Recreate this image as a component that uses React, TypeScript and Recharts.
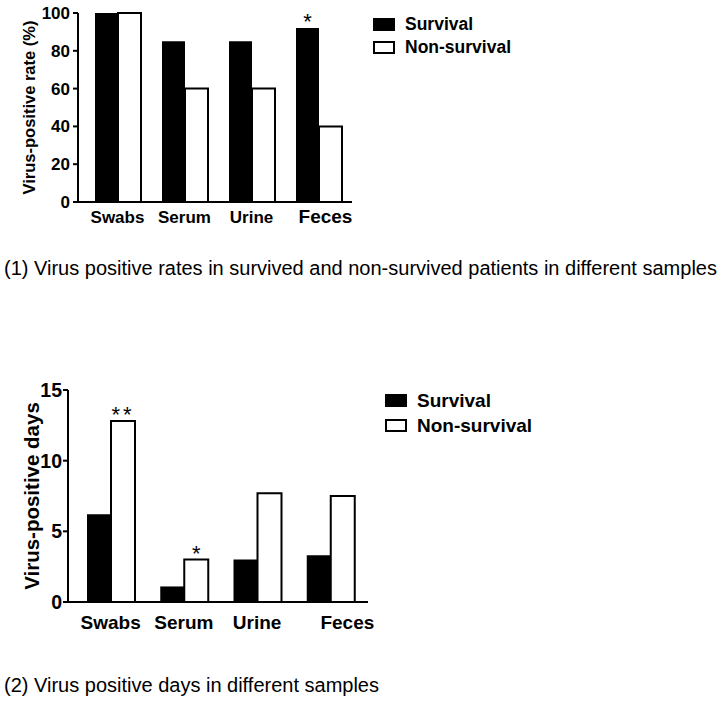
import React from 'react';
import { BarChart, Bar, XAxis, YAxis, Legend, LabelList } from 'recharts';

// sample types (x categories)
const categories = ['Swabs', 'Serum', 'Urine', 'Feces'];

// (1) virus-positive rate, %
const rateSurvival = [100, 85, 85, 92];
const rateNonSurvival = [100, 60, 60, 40];
const rateSurvivalMarks = ['', '', '', '*'];
const rateNonSurvivalMarks = ['', '', '', ''];
const rateTicks = [0, 20, 40, 60, 80, 100];

// (2) virus-positive days
const daysSurvival = [6.2, 1.1, 3.0, 3.3];
const daysNonSurvival = [12.8, 3.0, 7.7, 7.5];
const daysSurvivalMarks = ['', '', '', ''];
const daysNonSurvivalMarks = ['**', '*', '', ''];
const daysTicks = [0, 5, 10, 15];

const seriesNames = ['Survival', 'Non-survival'];
const captions = [
    '(1) Virus positive rates in survived and non-survived patients in different samples',
    '(2) Virus positive days in different samples',
];

const FONT = 'Arial, "Liberation Sans", Helvetica, sans-serif';

const rateData = categories.map((name, i) => ({
    name,
    survival: rateSurvival[i],
    nonSurvival: rateNonSurvival[i],
    markS: rateSurvivalMarks[i],
    markN: rateNonSurvivalMarks[i],
}));

const daysData = categories.map((name, i) => ({
    name,
    survival: daysSurvival[i],
    nonSurvival: daysNonSurvival[i],
    markS: daysSurvivalMarks[i],
    markN: daysNonSurvivalMarks[i],
}));

const CategoryTick = ({ x, y, payload, fontSize, dy, lastDx, lastSize }: any) => {
    const isLast = payload.value === categories[categories.length - 1];
    return (
        <text
            x={x + (isLast ? lastDx : 0)}
            y={y + dy}
            textAnchor="middle"
            fontFamily={FONT}
            fontWeight="bold"
            fontSize={isLast ? lastSize : fontSize}
            fill="#000"
        >
            {payload.value}
        </text>
    );
};

// rotated y-axis title, centred on the plot height
const AxisTitle = ({ viewBox, value, cx, fontSize }: any) => {
    const cy = viewBox.y + viewBox.height / 2;
    return (
        <text
            transform={`translate(${cx},${cy}) rotate(-90)`}
            textAnchor="middle"
            dominantBaseline="central"
            fontFamily={FONT}
            fontWeight="bold"
            fontSize={fontSize}
            fill="#000"
        >
            {value}
        </text>
    );
};

const StarLabel = ({ x, y, width, value }: any) => {
    if (!value) return null;
    return (
        <text
            x={x + width / 2}
            y={y + 1}
            textAnchor="middle"
            fontFamily={FONT}
            fontSize={22}
            letterSpacing={value.length > 1 ? 3 : 0}
            fill="#000"
        >
            {value}
        </text>
    );
};

const BoxLegend = ({ fontSize, gap }: any) => (
    <div style={{ fontFamily: FONT, fontWeight: 'bold', fontSize, color: '#000' }}>
        {seriesNames.map((s, i) => (
            <div key={s} style={{ display: 'flex', alignItems: 'center', height: gap }}>
                <span
                    style={{
                        display: 'inline-block',
                        width: 18,
                        height: 9,
                        background: i === 0 ? '#000' : '#fff',
                        border: '2px solid #000',
                        marginRight: 10,
                    }}
                />
                {s}
            </div>
        ))}
    </div>
);

export default function App() {
    return (
        <div style={{ position: 'absolute', left: 0, top: 0, width: 723, height: 702, background: '#fff', fontFamily: FONT }}>
            <div style={{ position: 'absolute', left: 0, top: 0 }}>
                <BarChart
                    width={560}
                    height={240}
                    data={rateData}
                    margin={{ top: 13, right: 208, left: 20, bottom: 8 }}
                    barGap={0}
                    barSize={23}
                >
                    <XAxis
                        dataKey="name"
                        height={30}
                        padding={{ left: 6, right: 0 }}
                        axisLine={{ stroke: '#000', strokeWidth: 2 }}
                        tickLine={false}
                        tickSize={0}
                        tickMargin={0}
                        interval={0}
                        tick={<CategoryTick fontSize={17} dy={21} lastDx={7} lastSize={19} />}
                    />
                    <YAxis
                        width={58}
                        domain={[0, 100]}
                        ticks={rateTicks}
                        axisLine={{ stroke: '#000', strokeWidth: 2 }}
                        tickLine={{ stroke: '#000', strokeWidth: 2 }}
                        tickSize={5}
                        tickMargin={3}
                        tick={{ fill: '#000', fontSize: 17, fontWeight: 'bold', fontFamily: FONT }}
                        label={{
                            value: 'Virus-positive rate (%)',
                            content: <AxisTitle value="Virus-positive rate (%)" cx={29} fontSize={16.5} />,
                        }}
                    />
                    <Legend
                        layout="vertical"
                        align="center"
                        verticalAlign="middle"
                        wrapperStyle={{ left: 373, top: 13, width: 'auto' }}
                        content={<BoxLegend fontSize={17.5} gap={23} />}
                    />
                    <Bar dataKey="survival" name={seriesNames[0]} fill="#000" isAnimationActive={false}>
                        <LabelList dataKey="markS" content={<StarLabel />} />
                    </Bar>
                    <Bar dataKey="nonSurvival" name={seriesNames[1]} fill="#fff" stroke="#000" strokeWidth={2} isAnimationActive={false}>
                        <LabelList dataKey="markN" content={<StarLabel />} />
                    </Bar>
                </BarChart>
            </div>

            <div style={{ position: 'absolute', left: 4, top: 257, fontSize: 20, whiteSpace: 'nowrap', color: '#000' }}>
                {captions[0]}
            </div>

            <div style={{ position: 'absolute', left: 0, top: 370 }}>
                <BarChart
                    width={560}
                    height={280}
                    data={daysData}
                    margin={{ top: 20, right: 192, left: 18, bottom: 16 }}
                    barGap={0}
                    barSize={24}
                >
                    <XAxis
                        dataKey="name"
                        height={32}
                        padding={{ left: 6, right: 1 }}
                        axisLine={{ stroke: '#000', strokeWidth: 2 }}
                        tickLine={false}
                        tickSize={0}
                        tickMargin={0}
                        interval={0}
                        tick={<CategoryTick fontSize={19} dy={27} lastDx={17} lastSize={19} />}
                    />
                    <YAxis
                        width={50}
                        domain={[0, 15]}
                        ticks={daysTicks}
                        axisLine={{ stroke: '#000', strokeWidth: 2 }}
                        tickLine={{ stroke: '#000', strokeWidth: 2 }}
                        tickSize={5}
                        tickMargin={1}
                        tick={{ fill: '#000', fontSize: 19.5, fontWeight: 'bold', fontFamily: FONT }}
                        label={{
                            value: 'Virus-positive days',
                            content: <AxisTitle value="Virus-positive days" cx={31} fontSize={20.5} />,
                        }}
                    />
                    <Legend
                        layout="vertical"
                        align="center"
                        verticalAlign="middle"
                        wrapperStyle={{ left: 385, top: 18, width: 'auto' }}
                        content={<BoxLegend fontSize={19} gap={25} />}
                    />
                    <Bar dataKey="survival" name={seriesNames[0]} fill="#000" isAnimationActive={false}>
                        <LabelList dataKey="markS" content={<StarLabel />} />
                    </Bar>
                    <Bar dataKey="nonSurvival" name={seriesNames[1]} fill="#fff" stroke="#000" strokeWidth={2} isAnimationActive={false}>
                        <LabelList dataKey="markN" content={<StarLabel />} />
                    </Bar>
                </BarChart>
            </div>

            <div style={{ position: 'absolute', left: 4, top: 674, fontSize: 20, whiteSpace: 'nowrap', color: '#000' }}>
                {captions[1]}
            </div>
        </div>
    );
}
